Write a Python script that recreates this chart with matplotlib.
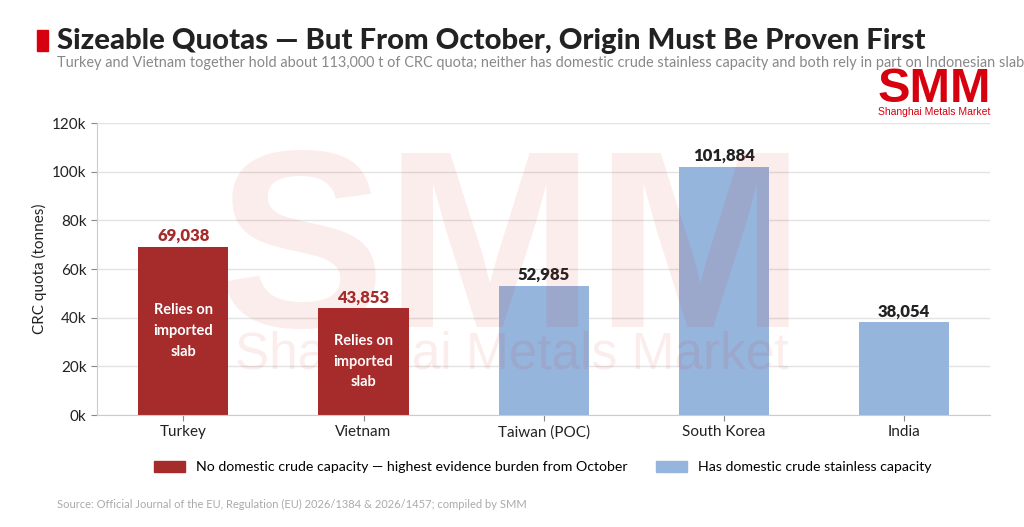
import matplotlib.pyplot as plt
from matplotlib.patches import Patch
from matplotlib.ticker import FuncFormatter

countries = ["Turkey", "Vietnam", "Taiwan (POC)", "South Korea", "India"]
quotas = [69038, 43853, 52985, 101884, 38054]
no_crude = [True, True, False, False, False]

RED = "#a62c2c"
BLUE = "#96b5dc"
FONT = "Lato"

plt.rcParams["font.family"] = [FONT, "DejaVu Sans"]

fig = plt.figure(figsize=(10.24, 5.27), dpi=100)
ax = fig.add_axes([0.0947, 0.2125, 0.8723, 0.5541])

colors = [RED if n else BLUE for n in no_crude]
x = range(len(countries))
bars = ax.bar(x, quotas, width=0.5, color=colors, zorder=2)

for i, (v, n) in enumerate(zip(quotas, no_crude)):
    ax.text(i, v + 1200, f"{v:,}", ha="center", va="bottom",
            fontsize=12, fontweight="heavy", color=RED if n else "#222222")
    if n:
        ax.text(i, v / 2, "Relies on\nimported\nslab", ha="center", va="center",
                fontsize=10.5, fontweight="bold", color="white", linespacing=1.6)

ax.set_xlim(-0.48, 4.48)
ax.set_ylim(0, 120000)
ax.set_yticks(range(0, 120001, 20000))
ax.yaxis.set_major_formatter(FuncFormatter(lambda v, p: f"{int(v/1000)}k"))
ax.set_xticks(list(x))
ax.set_xticklabels(countries)
ax.tick_params(labelsize=11, colors="#222222", length=4)
ax.tick_params(axis="both", color="#888888")
ax.set_ylabel("CRC quota (tonnes)", fontsize=11, color="#222222")
ax.grid(axis="y", color="#e3e3e3", linewidth=1, zorder=0)
for s in ["top", "right"]:
    ax.spines[s].set_visible(False)
for s in ["left", "bottom"]:
    ax.spines[s].set_color("#cccccc")

# watermark
fig.text(0.5, 1 - 262 / 527, "SMM", ha="center", va="center", fontsize=182,
         fontweight="bold", color=(0.85, 0.1, 0.1, 0.08), family="Liberation Sans")
fig.text(0.5, 1 - 355 / 527, "Shanghai Metals Market", ha="center", va="center",
         fontsize=37, color=(0.85, 0.1, 0.1, 0.08), family="Liberation Sans")

# title block
fig.patches.append(plt.Rectangle((37 / 1024, 1 - 51 / 527), 11 / 1024, 21 / 527,
                                 transform=fig.transFigure, color="#d7000f"))
fig.text(57 / 1024, 1 - 41 / 527, "Sizeable Quotas \u2014 But From October, Origin Must Be Proven First",
         fontsize=21.1, fontweight="black", color="#222222", va="center")
fig.text(57 / 1024, 1 - 63 / 527,
         "Turkey and Vietnam together hold about 113,000 t of CRC quota; neither has domestic crude "
         "stainless capacity and both rely in part on Indonesian slab",
         fontsize=10.45, color="#888888", va="center")

# logo
fig.text(934 / 1024, 1 - 90 / 527, "SMM", ha="center", va="center", fontsize=35,
         fontweight="bold", color="#d7000f", family="Liberation Sans")
fig.text(934 / 1024, 1 - 112 / 527, "Shanghai Metals Market", ha="center", va="center",
         fontsize=7.5, color="#d7000f", family="Liberation Sans")

handles = [Patch(color=RED, label="No domestic crude capacity \u2014 highest evidence burden from October"),
           Patch(color=BLUE, label="Has domestic crude stainless capacity")]
fig.legend(handles=handles, loc="center", bbox_to_anchor=(0.530, 1 - 467 / 527), ncol=2,
           frameon=False, fontsize=10.2, handlelength=2.2, handleheight=0.9, columnspacing=2.0)

fig.text(57 / 1024, 1 - 504 / 527,
         "Source: Official Journal of the EU, Regulation (EU) 2026/1384 & 2026/1457; compiled by SMM",
         fontsize=8, color="#aaaaaa", va="center")

fig.savefig("out.png", dpi=100)
